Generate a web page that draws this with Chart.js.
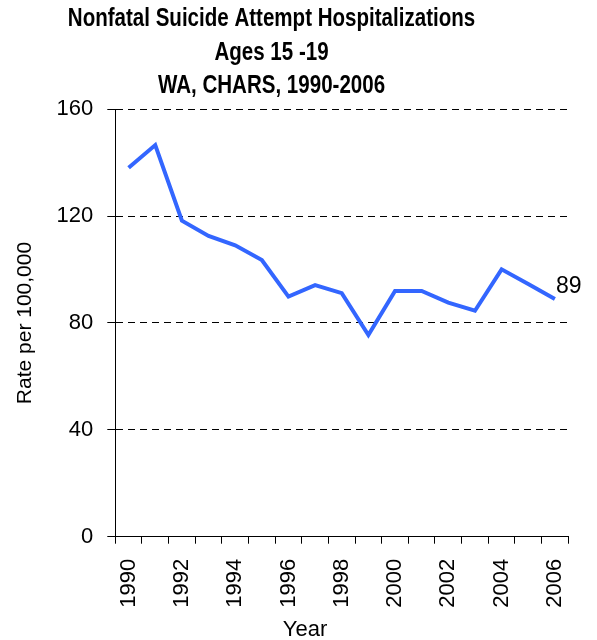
<!DOCTYPE html>
<html><head><meta charset="utf-8">
<script src="https://cdn.jsdelivr.net/npm/chart.js@4/dist/chart.umd.min.js"></script>
<style>html,body{margin:0;padding:0;background:#fff}#wrap{width:597px;height:640px}</style>
</head><body><div id="wrap"><canvas id="c" width="597" height="640"></canvas></div>
<script>
const years = ['1990','1991','1992','1993','1994','1995','1996','1997','1998','1999','2000','2001','2002','2003','2004','2005','2006'];
const rates = [138.1,146.6,118.3,112.6,109.1,103.6,89.9,94.2,91.2,75.5,92.0,92.0,87.6,84.6,100.1,94.6,89];
const yTicks = [0,40,80,120,160];
const titleLines = ['Nonfatal Suicide Attempt Hospitalizations','Ages 15 -19','WA, CHARS, 1990-2006'];
const xTitle = 'Year';
const yTitle = 'Rate per 100,000';

const FONT = '"Liberation Sans", Arial, sans-serif';

const overlay = {
  id: 'overlay',
  afterDraw(chart) {
    const ctx = chart.ctx;
    ctx.save();
    ctx.fillStyle = '#000';
    ctx.textBaseline = 'alphabetic';
    // title (condensed bold)
    ctx.font = 'bold 26px ' + FONT;
    ctx.textAlign = 'center';
    const baselines = [26, 60, 93];
    titleLines.forEach((t, i) => {
      ctx.save();
      ctx.translate(271.5, baselines[i]);
      ctx.scale(0.79, 1);
      ctx.fillText(t, 0, 0);
      ctx.restore();
    });
    // x axis title
    ctx.font = '22px ' + FONT;
    ctx.textAlign = 'center';
    ctx.fillText(xTitle, 305, 636);
    // end value label
    const meta = chart.getDatasetMeta(0);
    const last = rates.length - 1;
    const pt = meta.data[last];
    ctx.font = '23px ' + FONT;
    ctx.textAlign = 'left';
    ctx.fillText(String(rates[last]), pt.x + 1, pt.y - 6);
    ctx.restore();
  }
};

new Chart(document.getElementById('c'), {
  type: 'line',
  data: {
    labels: years,
    datasets: [{
      data: rates,
      borderColor: '#3366FF',
      backgroundColor: '#3366FF',
      borderWidth: 4,
      pointRadius: 0,
      tension: 0,
      fill: false
    }]
  },
  options: {
    responsive: false,
    animation: false,
    devicePixelRatio: 1,
    layout: { padding: { top: 109.3, right: 24.5, left: 0, bottom: 0 } },
    plugins: { legend: { display: false }, tooltip: { enabled: false }, title: { display: false } },
    scales: {
      x: {
        offset: true,
        afterFit: s => { s.height = 103.3; },
        grid: { offset: true, drawOnChartArea: false, drawTicks: true, tickLength: 7, color: '#000', lineWidth: 1 },
        border: { display: true, color: '#000', width: 1 },
        ticks: {
          autoSkip: false, minRotation: 90, maxRotation: 90, padding: 15,
          color: '#000', font: { family: FONT, size: 22 },
          callback: (v, i) => (i % 2 === 0 ? years[i] : '')
        }
      },
      y: {
        min: 0, max: 160,
        afterFit: s => { s.width = 115.3; },
        afterBuildTicks: s => { s.ticks = yTicks.map(v => ({ value: v })); },
        grid: { color: '#000', lineWidth: 1, tickLength: 8, tickBorderDash: [], borderDash: [7, 5] },
        border: { display: true, color: '#000', width: 1, dash: [7, 5] },
        ticks: { stepSize: 40, padding: 14, color: '#000', font: { family: FONT, size: 22 } },
        title: { display: true, text: yTitle, color: '#000', font: { family: FONT, size: 21 }, padding: { top: 13, bottom: 0 } }
      }
    }
  },
  plugins: [overlay]
});
</script>
</body></html>
